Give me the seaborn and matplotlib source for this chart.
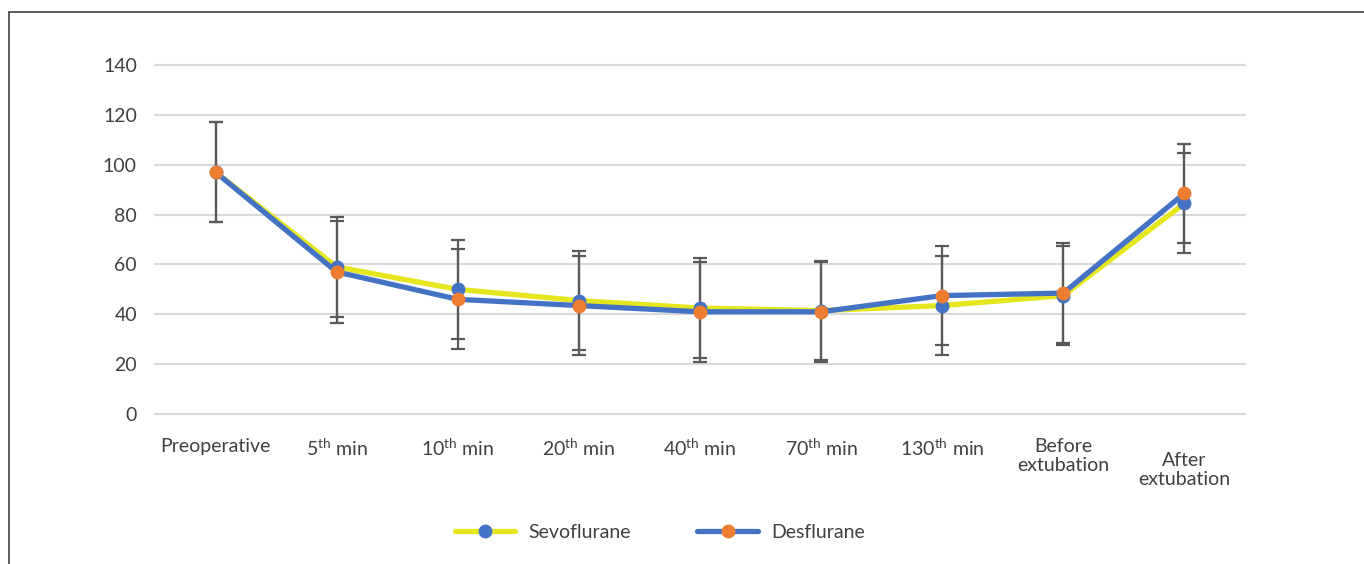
import matplotlib
matplotlib.use("Agg")
import matplotlib.pyplot as plt
import matplotlib.transforms as mtransforms
from matplotlib.lines import Line2D
import seaborn as sns
import pandas as pd
import numpy as np

categories = ["Preoperative", "5$^{\\mathrm{th}}$ min", "10$^{\\mathrm{th}}$ min",
              "20$^{\\mathrm{th}}$ min", "40$^{\\mathrm{th}}$ min", "70$^{\\mathrm{th}}$ min",
              "130$^{\\mathrm{th}}$ min", "Before\nextubation", "After\nextubation"]
sevo_mean = [97, 59, 50, 45.5, 42.5, 41.5, 43.5, 47.5, 84.5]
sevo_sd = [20, 20, 20, 20, 20, 20, 20, 20, 20]
des_mean = [97, 57, 46, 43.5, 41, 41, 47.5, 48.5, 88.5]
des_sd = [20, 20.5, 20, 20, 20, 20, 20, 20, 20]
yticks = [0, 20, 40, 60, 80, 100, 120, 140]

sns.set_theme(style="white")
plt.rcParams['font.family'] = ['Lato', 'DejaVu Sans']
plt.rcParams['mathtext.fontset'] = 'custom'
plt.rcParams['mathtext.rm'] = 'Lato'
plt.rcParams['mathtext.it'] = 'Lato:italic'
plt.rcParams['mathtext.bf'] = 'Lato:bold'

TXT = "#404040"
YEL = "#E6E61E"
BLU = "#4472C4"
ORA = "#ED7D31"
ERR = "#595959"
FS = 14

fig = plt.figure(figsize=(13.64, 5.64), dpi=100)
ax = fig.add_axes([155/1364, 1 - 414/564, (1245-155)/1364, (414-65)/564])

x = np.arange(len(categories))
df = pd.DataFrame({"x": x, "sevo": sevo_mean, "des": des_mean})

ax.errorbar(x, sevo_mean, yerr=sevo_sd, fmt='none', ecolor=ERR, elinewidth=1.6,
            capsize=5, capthick=1.6, zorder=2)
ax.errorbar(x, des_mean, yerr=des_sd, fmt='none', ecolor=ERR, elinewidth=1.6,
            capsize=5, capthick=1.6, zorder=2)

sns.lineplot(data=df, x="x", y="sevo", ax=ax, color=YEL, lw=3.8, marker='o',
             markersize=10, markerfacecolor=BLU, markeredgecolor=BLU,
             markeredgewidth=0, label="Sevoflurane", zorder=3)
sns.lineplot(data=df, x="x", y="des", ax=ax, color=BLU, lw=3.8, marker='o',
             markersize=10, markerfacecolor=ORA, markeredgecolor=ORA,
             markeredgewidth=0, label="Desflurane", zorder=4)

ax.set_xlim(-0.5, len(categories) - 0.5)
ax.set_ylim(0, 140)
ax.set_yticks(yticks)
ax.set_yticklabels([str(v) for v in yticks])
ax.set_xticks(x)
ax.set_xticklabels(categories, linespacing=1.2)
ax.set_xlabel("")
ax.set_ylabel("")
ax.grid(axis='y', color="#D9D9D9", lw=1.5, zorder=0)
ax.grid(axis='x', visible=False)
for gl in ax.get_ygridlines():
    gl.set_clip_on(False)
for s in ax.spines.values():
    s.set_visible(False)
ax.tick_params(axis='x', length=0, pad=17, labelsize=FS, labelcolor=TXT)
ax.tick_params(axis='y', length=0, pad=13, labelsize=FS, labelcolor=TXT)
for lab in ax.get_xticklabels():
    lab.set_verticalalignment('top')
# last label sits lower in the reference
lastlab = ax.get_xticklabels()[-1]
lastlab.set_transform(lastlab.get_transform() +
                      mtransforms.ScaledTranslation(0, -14/100, fig.dpi_scale_trans))

if ax.legend_:
    ax.legend_.remove()
handles, labels = ax.get_legend_handles_labels()
fig.legend(handles, labels, loc='center', bbox_to_anchor=(660/1364, 1 - 532/564),
           ncol=2, frameon=False, fontsize=FS, handlelength=3.1, handletextpad=0.7,
           columnspacing=3.4, labelcolor=TXT)

fig.add_artist(Line2D([9/1364, 9/1364], [0, 1 - 12/564], color="#404040", lw=1.2,
                      transform=fig.transFigure))
fig.add_artist(Line2D([9/1364, 1], [1 - 12/564, 1 - 12/564], color="#404040", lw=1.2,
                      transform=fig.transFigure))

fig.savefig("out.png", dpi=100, facecolor="white")
